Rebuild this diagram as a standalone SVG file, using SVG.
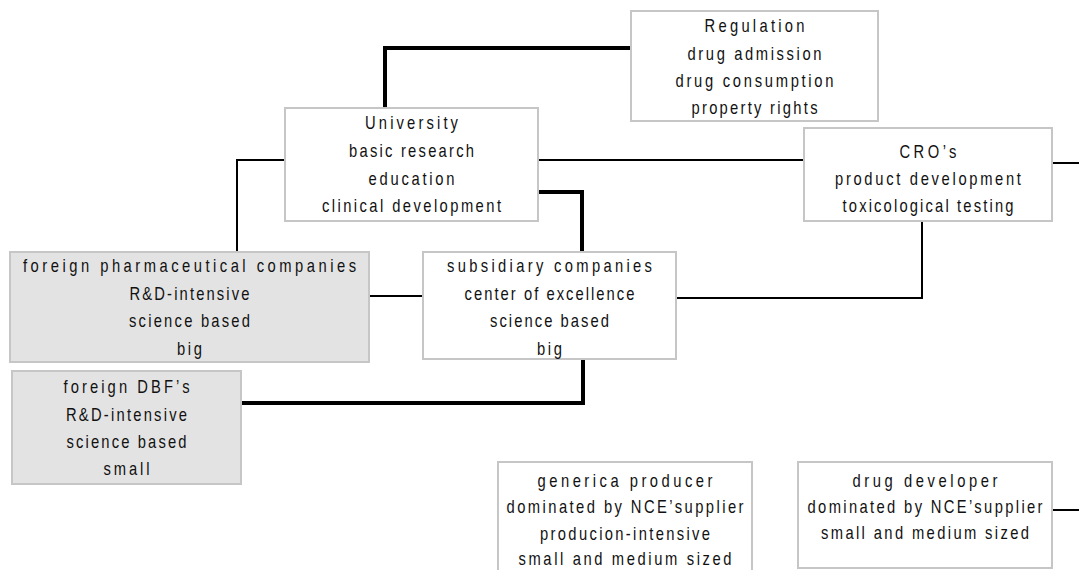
<svg xmlns="http://www.w3.org/2000/svg" width="1079" height="570" viewBox="0 0 1079 570">
  <style>
    .box { fill: #ffffff; stroke: #c6c6c6; stroke-width: 2; }
    .box.shaded { fill: #e3e3e3; }
    .lbl { font-family: "Liberation Sans", Arial, sans-serif; font-size: 18px; fill: #111111; text-anchor: middle; }
    .thin { fill: none; stroke: #000000; stroke-width: 2; }
    .thick { fill: none; stroke: #000000; stroke-width: 4; }
  </style>

  <rect width="1079" height="570" fill="#ffffff"/>

  <!-- connectors -->
  <g id="connectors">
    <path class="thick" d="M385,108 V48 H631"/>
    <path class="thick" d="M538,192 H582 V252"/>
    <path class="thick" d="M583,359 V403 H241"/>
    <path class="thin" d="M285,160 H237 V252"/>
    <path class="thin" d="M538,160 H804"/>
    <path class="thin" d="M1052,163 H1079"/>
    <path class="thin" d="M922,221 V298 H676"/>
    <path class="thin" d="M369,296 H423"/>
    <path class="thin" d="M1052,510 H1079"/>
  </g>

  <!-- labels are set in a condensed cut: each block is centred on its box and squeezed to 82% width -->
  <g id="regulation">
    <rect class="box" x="631" y="11" width="247" height="110"/>
    <g transform="translate(754.5 0) scale(0.82 1)">
      <text class="lbl" x="0" y="32.5" textLength="122" lengthAdjust="spacing">Regulation</text>
      <text class="lbl" x="0" y="60" textLength="163.4" lengthAdjust="spacing">drug admission</text>
      <text class="lbl" x="0" y="87" textLength="192.7" lengthAdjust="spacing">drug consumption</text>
      <text class="lbl" x="0" y="114.5" textLength="153.7" lengthAdjust="spacing">property rights</text>
    </g>
  </g>

  <g id="university">
    <rect class="box" x="285" y="108" width="253" height="113"/>
    <g transform="translate(411.5 0) scale(0.82 1)">
      <text class="lbl" x="0" y="129.5" textLength="113.4" lengthAdjust="spacing">University</text>
      <text class="lbl" x="0" y="157" textLength="152.4" lengthAdjust="spacing">basic research</text>
      <text class="lbl" x="0" y="185" textLength="104.9" lengthAdjust="spacing">education</text>
      <text class="lbl" x="0" y="212.5" textLength="218.3" lengthAdjust="spacing">clinical development</text>
    </g>
  </g>

  <g id="cro">
    <rect class="box" x="804" y="128" width="248" height="93"/>
    <g transform="translate(928 0) scale(0.82 1)">
      <text class="lbl" x="0" y="158" textLength="69.5" lengthAdjust="spacing">CRO’s</text>
      <text class="lbl" x="0" y="185" textLength="226.8" lengthAdjust="spacing">product development</text>
      <text class="lbl" x="0" y="212.5" textLength="208.5" lengthAdjust="spacing">toxicological testing</text>
    </g>
  </g>

  <g id="foreign-pharma">
    <rect class="box shaded" x="10" y="252" width="359" height="110"/>
    <g transform="translate(189.5 0) scale(0.82 1)">
      <text class="lbl" x="0" y="272" textLength="406.1" lengthAdjust="spacing">foreign pharmaceutical companies</text>
      <text class="lbl" x="0" y="300" textLength="146.3" lengthAdjust="spacing">R&amp;D-intensive</text>
      <text class="lbl" x="0" y="327" textLength="147.6" lengthAdjust="spacing">science based</text>
      <text class="lbl" x="0" y="355" textLength="30.5" lengthAdjust="spacing">big</text>
    </g>
  </g>

  <g id="subsidiary">
    <rect class="box" x="423" y="252" width="253" height="107"/>
    <g transform="translate(549.5 0) scale(0.82 1)">
      <text class="lbl" x="0" y="272.5" textLength="250" lengthAdjust="spacing">subsidiary companies</text>
      <text class="lbl" x="0" y="300" textLength="207.3" lengthAdjust="spacing">center of excellence</text>
      <text class="lbl" x="0" y="327" textLength="145.1" lengthAdjust="spacing">science based</text>
      <text class="lbl" x="0" y="355" textLength="30.5" lengthAdjust="spacing">big</text>
    </g>
  </g>

  <g id="foreign-dbf">
    <rect class="box shaded" x="12" y="371" width="229" height="113"/>
    <g transform="translate(126.5 0) scale(0.82 1)">
      <text class="lbl" x="0" y="393" textLength="153.7" lengthAdjust="spacing">foreign DBF’s</text>
      <text class="lbl" x="0" y="421" textLength="147.6" lengthAdjust="spacing">R&amp;D-intensive</text>
      <text class="lbl" x="0" y="448" textLength="146.3" lengthAdjust="spacing">science based</text>
      <text class="lbl" x="0" y="475" textLength="56.1" lengthAdjust="spacing">small</text>
    </g>
  </g>

  <g id="generica-producer">
    <rect class="box" x="498" y="462" width="254" height="120"/>
    <g transform="translate(625 0) scale(0.82 1)">
      <text class="lbl" x="0" y="487" textLength="213.4" lengthAdjust="spacing">generica producer</text>
      <text class="lbl" x="0" y="513.5" textLength="289" lengthAdjust="spacing">dominated by NCE’supplier</text>
      <text class="lbl" x="0" y="540" textLength="207.3" lengthAdjust="spacing">producion-intensive</text>
      <text class="lbl" x="0" y="565" textLength="259.8" lengthAdjust="spacing">small and medium sized</text>
    </g>
  </g>

  <g id="drug-developer">
    <rect class="box" x="798" y="462" width="254" height="106"/>
    <g transform="translate(925 0) scale(0.82 1)">
      <text class="lbl" x="0" y="487" textLength="176.8" lengthAdjust="spacing">drug developer</text>
      <text class="lbl" x="0" y="513.5" textLength="286.6" lengthAdjust="spacing">dominated by NCE’supplier</text>
      <text class="lbl" x="0" y="539" textLength="253.7" lengthAdjust="spacing">small and medium sized</text>
    </g>
  </g>
</svg>
